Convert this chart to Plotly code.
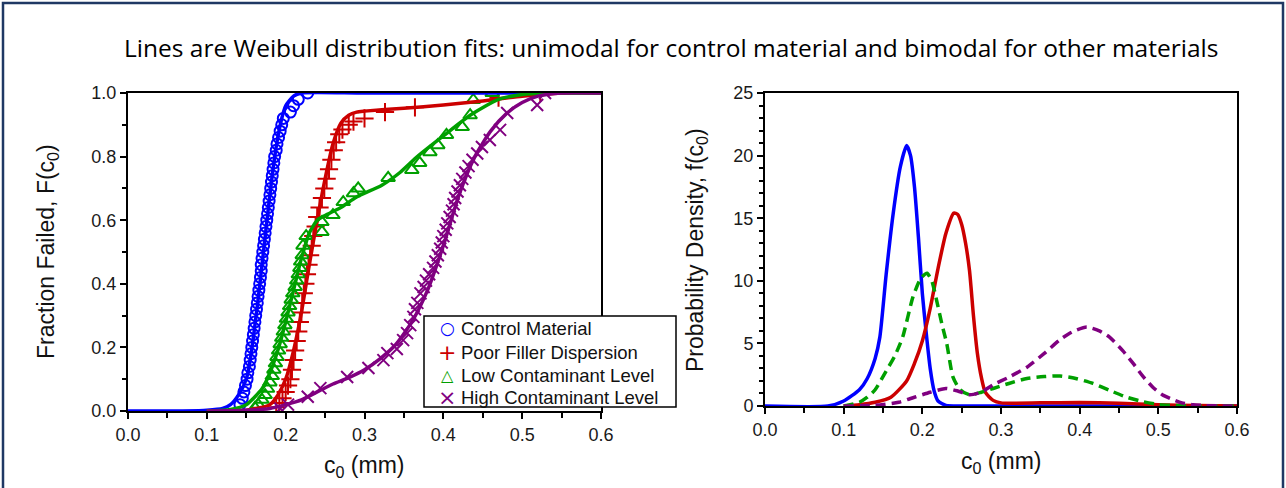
import plotly.graph_objects as go

W, H = 1286, 488

# ---------------- data: left panel (cumulative fraction failed) ----------------
series_names = ["Control Material", "Poor Filler Dispersion",
                "Low Contaminant Level", "High Contaminant Level"]

control_x = [0.142, 0.145, 0.147, 0.149, 0.151, 0.152, 0.154, 0.155, 0.156, 0.157,
             0.158, 0.159, 0.160, 0.161, 0.162, 0.163, 0.164, 0.165, 0.166, 0.167,
             0.168, 0.169, 0.169, 0.170, 0.171, 0.172, 0.173, 0.174, 0.175, 0.176,
             0.177, 0.178, 0.179, 0.180, 0.181, 0.182, 0.183, 0.184, 0.185, 0.186,
             0.188, 0.189, 0.191, 0.193, 0.195, 0.197, 0.206, 0.210, 0.216, 0.228]
control_y = [0.02, 0.04, 0.06, 0.08, 0.10, 0.12, 0.14, 0.16, 0.18, 0.20,
             0.22, 0.24, 0.26, 0.28, 0.30, 0.32, 0.34, 0.36, 0.38, 0.40,
             0.42, 0.44, 0.46, 0.48, 0.50, 0.52, 0.54, 0.56, 0.58, 0.60,
             0.62, 0.64, 0.66, 0.68, 0.70, 0.72, 0.74, 0.76, 0.78, 0.80,
             0.82, 0.84, 0.86, 0.88, 0.90, 0.92, 0.94, 0.96, 0.98, 1.00]

poor_x = [0.188, 0.192, 0.196, 0.200, 0.203, 0.206, 0.208, 0.210, 0.212, 0.214,
          0.216, 0.218, 0.220, 0.221, 0.223, 0.225, 0.227, 0.229, 0.231, 0.233,
          0.235, 0.238, 0.240, 0.243, 0.246, 0.249, 0.252, 0.255, 0.258, 0.261,
          0.264, 0.268, 0.272, 0.280, 0.286, 0.300, 0.326, 0.364, 0.470, 0.523]
poor_y = [0.012, 0.025, 0.04, 0.06, 0.08, 0.10, 0.13, 0.16, 0.19, 0.22,
          0.25, 0.28, 0.31, 0.34, 0.37, 0.40, 0.43, 0.46, 0.49, 0.52,
          0.55, 0.58, 0.61, 0.64, 0.67, 0.70, 0.73, 0.76, 0.79, 0.82,
          0.845, 0.87, 0.885, 0.90, 0.91, 0.92, 0.94, 0.955, 0.985, 1.0]

low_x = [0.161, 0.165, 0.170, 0.174, 0.177, 0.180, 0.183, 0.185, 0.187, 0.189,
         0.191, 0.193, 0.195, 0.197, 0.199, 0.201, 0.203, 0.205, 0.207, 0.209,
         0.212, 0.214, 0.216, 0.218, 0.219, 0.221, 0.222, 0.226, 0.246, 0.246,
         0.260, 0.273, 0.286, 0.292, 0.330, 0.360, 0.370, 0.383, 0.393, 0.404,
         0.424, 0.434, 0.438, 0.462]
low_y = [0.01, 0.02, 0.035, 0.05, 0.07, 0.09, 0.11, 0.13, 0.15, 0.17,
         0.19, 0.21, 0.23, 0.25, 0.27, 0.29, 0.31, 0.33, 0.35, 0.37,
         0.39, 0.41, 0.43, 0.45, 0.47, 0.49, 0.52, 0.55, 0.563, 0.594,
         0.616, 0.657, 0.685, 0.70, 0.733, 0.758, 0.78, 0.814, 0.836, 0.868,
         0.893, 0.93, 0.978, 1.0]

high_x = [0.193, 0.203, 0.228, 0.244, 0.278, 0.305, 0.324, 0.329, 0.341, 0.349,
          0.354, 0.358, 0.362, 0.364, 0.367, 0.371, 0.375, 0.378, 0.382, 0.387,
          0.390, 0.393, 0.396, 0.398, 0.400, 0.403, 0.405, 0.408, 0.411, 0.413,
          0.415, 0.418, 0.421, 0.424, 0.428, 0.432, 0.437, 0.443, 0.449, 0.459,
          0.472, 0.481, 0.519, 0.529]
high_y = [0.008, 0.02, 0.045, 0.072, 0.107, 0.135, 0.16, 0.182, 0.195, 0.223,
          0.245, 0.27, 0.296, 0.32, 0.34, 0.37, 0.39, 0.41, 0.43, 0.45,
          0.47, 0.49, 0.51, 0.53, 0.55, 0.57, 0.59, 0.61, 0.63, 0.65,
          0.67, 0.69, 0.71, 0.73, 0.75, 0.77, 0.79, 0.81, 0.83, 0.852,
          0.884, 0.937, 0.962, 1.0]

# fitted CDF curves
control_cdf_x = [0.0, 0.05, 0.09, 0.10, 0.12, 0.13, 0.14, 0.15, 0.155, 0.16, 0.165, 0.17,
                 0.175, 0.18, 0.185, 0.19, 0.195, 0.20, 0.21, 0.22, 0.30, 0.60]
control_cdf_y = [0.0, 0.0, 0.001, 0.002, 0.008, 0.02, 0.05, 0.10, 0.16, 0.25, 0.35, 0.46,
                 0.57, 0.68, 0.78, 0.86, 0.92, 0.96, 0.99, 1.0, 1.0, 1.0]

poor_cdf_x = [0.10, 0.15, 0.18, 0.19, 0.20, 0.21, 0.22, 0.23, 0.24, 0.25, 0.26, 0.27,
              0.28, 0.29, 0.30, 0.35, 0.40, 0.45, 0.50, 0.55, 0.60]
poor_cdf_y = [0.0, 0.002, 0.02, 0.05, 0.10, 0.19, 0.31, 0.46, 0.60, 0.73, 0.84, 0.905,
              0.93, 0.94, 0.943, 0.952, 0.962, 0.975, 0.99, 1.0, 1.0]

low_cdf_x = [0.10, 0.13, 0.15, 0.17, 0.18, 0.19, 0.20, 0.21, 0.22, 0.23, 0.24, 0.25,
             0.27, 0.29, 0.322, 0.345, 0.367, 0.40, 0.434, 0.47, 0.50, 0.53, 0.60]
low_cdf_y = [0.0, 0.005, 0.02, 0.07, 0.12, 0.19, 0.28, 0.38, 0.48, 0.56, 0.60, 0.615,
             0.64, 0.673, 0.71, 0.75, 0.80, 0.865, 0.93, 0.98, 0.995, 1.0, 1.0]

high_cdf_x = [0.10, 0.15, 0.18, 0.20, 0.22, 0.24, 0.26, 0.28, 0.30, 0.32, 0.34, 0.36,
              0.38, 0.40, 0.42, 0.44, 0.46, 0.48, 0.50, 0.52, 0.55, 0.60]
high_cdf_y = [0.0, 0.002, 0.008, 0.02, 0.035, 0.06, 0.085, 0.105, 0.13, 0.165, 0.21, 0.28,
              0.38, 0.52, 0.68, 0.80, 0.88, 0.935, 0.97, 0.99, 1.0, 1.0]

# ---------------- data: right panel (probability density) ----------------
control_pdf_x = [0.0, 0.08, 0.10, 0.12, 0.13, 0.14, 0.146, 0.154, 0.163, 0.172, 0.18,
                 0.185, 0.19, 0.195, 0.20, 0.205, 0.21, 0.215, 0.22, 0.23, 0.25, 0.60]
control_pdf_y = [0.0, 0.0, 0.4, 1.3, 2.2, 3.8, 5.5, 10.5, 15.4, 19.1, 20.8,
                 20.0, 17.5, 13.5, 9.0, 5.8, 3.0, 1.2, 0.4, 0.05, 0.0, 0.0]

poor_pdf_x = [0.10, 0.12, 0.14, 0.16, 0.18, 0.19, 0.20, 0.21, 0.22, 0.23, 0.24, 0.245,
              0.25, 0.255, 0.26, 0.265, 0.27, 0.275, 0.28, 0.29, 0.30, 0.35, 0.40,
              0.45, 0.50, 0.55, 0.60]
poor_pdf_y = [0.0, 0.1, 0.3, 0.7, 2.0, 3.4, 5.2, 7.8, 11.0, 13.8, 15.4, 15.3,
              14.5, 13.0, 10.8, 7.2, 4.2, 2.3, 1.1, 0.45, 0.25, 0.25, 0.28,
              0.22, 0.1, 0.03, 0.0]

low_pdf_x = [0.10, 0.12, 0.13, 0.14, 0.155, 0.165, 0.175, 0.188, 0.198, 0.206, 0.212,
             0.219, 0.225, 0.231, 0.239, 0.248, 0.26, 0.275, 0.29, 0.31, 0.333, 0.355,
             0.375, 0.395, 0.417, 0.44, 0.46, 0.48, 0.50, 0.52, 0.55, 0.60]
low_pdf_y = [0.0, 0.3, 0.7, 1.3, 2.9, 4.0, 5.5, 8.7, 10.2, 10.6, 10.0,
             8.2, 6.5, 5.0, 2.3, 1.3, 0.9, 1.1, 1.4, 1.8, 2.2, 2.35,
             2.4, 2.2, 1.8, 1.2, 0.7, 0.35, 0.12, 0.05, 0.0, 0.0]

high_pdf_x = [0.10, 0.14, 0.17, 0.19, 0.21, 0.23, 0.245, 0.26, 0.275, 0.29, 0.31, 0.333,
              0.355, 0.375, 0.39, 0.409, 0.425, 0.438, 0.455, 0.468, 0.48, 0.493,
              0.505, 0.519, 0.53, 0.544, 0.56, 0.60]
high_pdf_y = [0.0, 0.05, 0.3, 0.7, 1.1, 1.4, 1.2, 0.9, 1.1, 1.7, 2.3, 3.1,
              4.2, 5.3, 5.9, 6.3, 6.0, 5.5, 4.4, 3.4, 2.4, 1.5,
              0.9, 0.5, 0.25, 0.1, 0.03, 0.0]

x_ticks = [0.0, 0.1, 0.2, 0.3, 0.4, 0.5, 0.6]
cdf_ticks = [0.0, 0.2, 0.4, 0.6, 0.8, 1.0]
pdf_ticks = [0, 5, 10, 15, 20, 25]

colors = ["#0000ff", "#cc0000", "#00a000", "#800080"]
symbols = ["circle-open", "cross-thin-open", "triangle-up-open", "x-thin-open"]
marker_sizes = [11, 13, 12, 12]
legend_glyphs = ["○", "+", "△", "×"]

title_text = ("Lines are Weibull distribution fits: unimodal for control material "
              "and bimodal for other materials")


# ---------------- helpers: page pixels -> paper fractions ----------------
def px_x(p):
    return p / W


def px_y(p):
    return 1 - p / H


fig = go.Figure()

cdf_lines = [(control_cdf_x, control_cdf_y), (poor_cdf_x, poor_cdf_y),
             (low_cdf_x, low_cdf_y), (high_cdf_x, high_cdf_y)]
pts = [(control_x, control_y), (poor_x, poor_y), (low_x, low_y), (high_x, high_y)]
pdf_lines = [(control_pdf_x, control_pdf_y), (poor_pdf_x, poor_pdf_y),
             (low_pdf_x, low_pdf_y), (high_pdf_x, high_pdf_y)]
pdf_dash = ["solid", "solid", "10px,6px", "10px,6px"]

for i in range(4):
    fig.add_trace(go.Scatter(x=pts[i][0], y=pts[i][1], mode="markers", name=series_names[i],
                             marker=dict(symbol=symbols[i], size=marker_sizes[i],
                                         color=colors[i], line=dict(width=2, color=colors[i])),
                             xaxis="x", yaxis="y", showlegend=False))
for i in range(4):
    fig.add_trace(go.Scatter(x=cdf_lines[i][0], y=cdf_lines[i][1], mode="lines",
                             name=series_names[i] + " fit",
                             line=dict(color=colors[i], width=3.5, shape="spline", smoothing=0.6),
                             xaxis="x", yaxis="y", showlegend=False, hoverinfo="skip"))
for i in range(4):
    fig.add_trace(go.Scatter(x=pdf_lines[i][0], y=pdf_lines[i][1], mode="lines",
                             name=series_names[i] + " pdf",
                             line=dict(color=colors[i], width=3.5, dash=pdf_dash[i],
                                       shape="spline", smoothing=0.6),
                             xaxis="x2", yaxis="y2", showlegend=False, hoverinfo="skip"))

tick_font = dict(family="Arial, Liberation Sans", size=18, color="#1a1a1a")
axis_common = dict(showgrid=False, zeroline=False, showline=True, linecolor="black",
                   linewidth=2, mirror=True, ticks="outside", ticklen=6, tickwidth=1.5,
                   tickcolor="black", tickfont=tick_font, automargin=False, fixedrange=True)

fig.update_layout(
    width=W, height=H,
    margin=dict(l=0, r=0, t=0, b=0),
    paper_bgcolor="white", plot_bgcolor="white",
    xaxis=dict(domain=[px_x(128), px_x(601)], range=[0, 0.6], anchor="y",
               tickvals=x_ticks, tickformat=".1f",
               minor=dict(dtick=0.05, ticks="outside", ticklen=5, tickcolor="black", tickwidth=1.5),
               **axis_common),
    yaxis=dict(domain=[px_y(411), px_y(93)], range=[0, 1.0], anchor="x",
               tickvals=cdf_ticks, tickformat=".1f",
               minor=dict(dtick=0.1, ticks="outside", ticklen=4, tickcolor="black", tickwidth=1.5),
               **axis_common),
    xaxis2=dict(domain=[px_x(765), px_x(1237)], range=[0, 0.6], anchor="y2",
                tickvals=x_ticks, tickformat=".1f",
                minor=dict(dtick=0.05, ticks="outside", ticklen=5, tickcolor="black", tickwidth=1.5),
                **axis_common),
    yaxis2=dict(domain=[px_y(406), px_y(93)], range=[0, 25], anchor="x2",
                tickvals=pdf_ticks,
                minor=dict(dtick=1, ticks="outside", ticklen=4, tickcolor="black", tickwidth=1.5),
                **axis_common),
    showlegend=False,
)


def add_text(text, x, y, size, angle=0, family="Arial, Liberation Sans", color="#111111",
             xanchor="center"):
    fig.add_annotation(text=text, x=px_x(x), y=px_y(y), xref="paper", yref="paper",
                       xanchor=xanchor, yanchor="middle", textangle=angle, showarrow=False,
                       font=dict(family=family, size=size, color=color))


add_text(title_text, 671, 47, 24.5, family="Open Sans", color="black")
add_text("Fraction Failed, F(c<sub>0</sub>)", 47, 252, 23, angle=-90)
add_text("c<sub>0</sub> (mm)", 364, 466, 23)
add_text("Probability Density, f(c<sub>0</sub>)", 697, 250, 23, angle=-90)
add_text("c<sub>0</sub> (mm)", 1001, 462, 23)

# legend box (left panel)
fig.add_shape(type="rect", xref="paper", yref="paper",
              x0=px_x(424), x1=px_x(676), y0=px_y(407), y1=px_y(316),
              line=dict(color="black", width=1.5), fillcolor="white", layer="above")
legend_rows = [328, 352, 375, 397]
glyph_sizes = [17, 22, 16, 22]
for i in range(4):
    add_text(legend_glyphs[i], 447, legend_rows[i], glyph_sizes[i],
             family="DejaVu Sans", color=colors[i])
    add_text(series_names[i], 459, legend_rows[i], 18.5, xanchor="left")

# outer frame
fig.add_shape(type="rect", xref="paper", yref="paper",
              x0=px_x(3), x1=px_x(1283), y0=px_y(494), y1=px_y(3),
              line=dict(color="#1f3864", width=2.5), fillcolor="rgba(0,0,0,0)", layer="above")

fig.write_html("out.html", config={"displayModeBar": False},
               post_script="document.body.style.margin='0px';")
